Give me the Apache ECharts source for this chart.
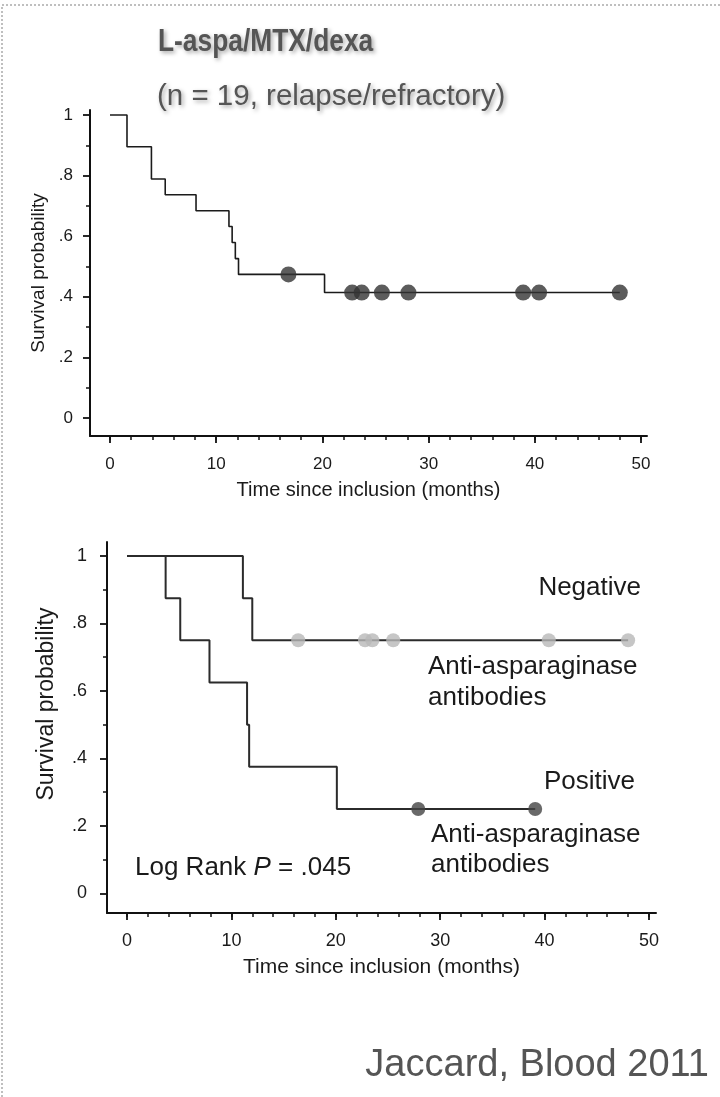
<!DOCTYPE html>
<html>
<head>
<meta charset="utf-8">
<script src="https://cdn.jsdelivr.net/npm/echarts@6/dist/echarts.min.js"></script>
<style>
  html, body { margin: 0; padding: 0; background: #fff; }
  #chart { width: 720px; height: 1097px; }
</style>
</head>
<body>
<div id="chart"></div>
<script>
// ---- Whole cohort (n = 19): Kaplan–Meier steps (months, survival after step)
const cohortTimes = [0, 1.6, 3.9, 5.2, 8.1, 11.2, 11.5, 11.8, 12.1, 20.2, 48.0];
const cohortSurv  = [1, 0.895, 0.789, 0.737, 0.684, 0.632, 0.579, 0.526, 0.474, 0.414, 0.414];
const cohortCensorTimes = [16.8, 22.8, 23.7, 25.6, 28.1, 38.9, 40.4, 48.0];
const cohortCensorSurv  = [0.474, 0.414, 0.414, 0.414, 0.414, 0.414, 0.414, 0.414];

// ---- Negative anti-asparaginase antibodies
const negTimes = [0, 11.1, 12.0, 48.0];
const negSurv  = [1, 0.875, 0.75, 0.75];
const negCensorTimes = [16.4, 22.8, 23.5, 25.5, 40.4, 48.0];
const negCensorSurv  = [0.75, 0.75, 0.75, 0.75, 0.75, 0.75];

// ---- Positive anti-asparaginase antibodies
const posTimes = [0, 3.7, 5.1, 7.9, 11.5, 11.7, 20.1, 39.1];
const posSurv  = [1, 0.875, 0.75, 0.625, 0.5, 0.375, 0.25, 0.25];
const posCensorTimes = [27.9, 39.1];
const posCensorSurv  = [0.25, 0.25];

// ---- Axis ticks and labels
const xMajorTicks = [0, 10, 20, 30, 40, 50];
const xMinorTicks = [0, 2, 4, 6, 8, 10, 12, 14, 16, 18, 20, 22, 24, 26, 28, 30, 32, 34, 36, 38, 40, 42, 44, 46, 48, 50];
const yMajorTicks = [0, 0.2, 0.4, 0.6, 0.8, 1];
const yMajorLabels = ['0', '.2', '.4', '.6', '.8', '1'];
const yMinorTicks = [0.1, 0.3, 0.5, 0.7, 0.9];

const xName = 'Time since inclusion (months)';
const yName = 'Survival probability';

const FONT = '"Liberation Sans", Arial, Helvetica, sans-serif';
const INK = '#1a1a1a';

const zip = (a, b) => a.map((v, i) => [v, b[i]]);
const yLabel = v => {
  const i = yMajorTicks.findIndex(t => Math.abs(t - v) < 1e-6);
  return i < 0 ? '' : yMajorLabels[i];
};

// Two overlaid axes per direction: one carries the line + minor ticks,
// the other the longer major ticks, labels and (optionally) the axis name.
function axesFor(g, c) {
  const lineStyle = { color: '#111', width: 2 };
  const x = [
    {
      gridIndex: g, type: 'value', position: 'bottom', min: c.xMin, max: c.xMax,
      axisLine: { show: true, onZero: false, lineStyle },
      axisTick: { show: true, customValues: xMinorTicks, length: 4, lineStyle: { color: '#111', width: 1.5 } },
      axisLabel: { show: false }, splitLine: { show: false }
    },
    {
      gridIndex: g, type: 'value', position: 'bottom', min: c.xMin, max: c.xMax,
      axisLine: { show: false, onZero: false },
      axisTick: { show: true, customValues: xMajorTicks, length: 7, lineStyle: { color: '#111', width: 1.8 } },
      axisLabel: { show: true, customValues: xMajorTicks, fontSize: c.tickFont, color: INK, fontFamily: FONT, margin: c.xLabelMargin },
      splitLine: { show: false },
      name: xName, nameLocation: 'middle', nameGap: c.xNameGap,
      nameTextStyle: { fontSize: c.xNameFont, color: INK, fontFamily: FONT }
    }
  ];
  const yMajor = {
    gridIndex: g, type: 'value', position: 'left', min: c.yMin, max: c.yMax,
    axisLine: { show: false, onZero: false },
    axisTick: { show: true, customValues: yMajorTicks, length: 7, lineStyle: { color: '#111', width: 1.8 } },
    axisLabel: { show: true, customValues: yMajorTicks, formatter: yLabel, fontSize: c.tickFont, color: INK, fontFamily: FONT, margin: c.yLabelMargin },
    splitLine: { show: false }
  };
  if (c.yNameGap != null) {
    Object.assign(yMajor, {
      name: yName, nameLocation: 'middle', nameGap: c.yNameGap, nameRotate: 90,
      nameTextStyle: { fontSize: c.yNameFont, color: INK, fontFamily: FONT }
    });
  }
  const y = [
    {
      gridIndex: g, type: 'value', position: 'left', min: c.yMin, max: c.yMax,
      axisLine: { show: true, onZero: false, lineStyle },
      axisTick: { show: true, customValues: yMinorTicks, length: 4, lineStyle: { color: '#111', width: 1.5 } },
      axisLabel: { show: false }, splitLine: { show: false }
    },
    yMajor
  ];
  return { x, y };
}

const upperAxes = axesFor(0, {
  xMin: -1.883, xMax: 50.56, yMin: -0.0594, yMax: 1.0165,
  tickFont: 17, xNameFont: 20, yNameFont: 19,
  xLabelMargin: 20, yLabelMargin: 17, xNameGap: 44, yNameGap: 40
});
// lower panel's y title sits above the axis centre, so it is placed as a graphic
const lowerAxes = axesFor(1, {
  xMin: -1.916, xMax: 50.67, yMin: -0.0584, yMax: 1.0415,
  tickFont: 18, xNameFont: 21,
  xLabelMargin: 19, yLabelMargin: 20, xNameGap: 44
});

function kmLine(times, surv, xi, yi, color, width) {
  return {
    type: 'line', step: 'end', xAxisIndex: xi, yAxisIndex: yi,
    data: zip(times, surv), symbol: 'none', silent: true,
    lineStyle: { color, width }, z: 2
  };
}
function censorDots(times, surv, xi, yi, color, size) {
  return {
    type: 'scatter', xAxisIndex: xi, yAxisIndex: yi,
    data: zip(times, surv), symbol: 'circle', symbolSize: size, silent: true,
    itemStyle: { color }, z: 3
  };
}

const annot = (text, x, y, align) => ({
  type: 'text', x, y, silent: true,
  style: { text, fill: INK, font: '26px ' + FONT, align, verticalAlign: 'middle' }
});

const shadow = {
  textShadowColor: 'rgba(0,0,0,0.35)', textShadowBlur: 4,
  textShadowOffsetX: 2, textShadowOffsetY: 2
};

const option = {
  animation: false,
  backgroundColor: '#fff',
  grid: [
    { left: 90, top: 110, width: 557, height: 326 },
    { left: 107, top: 542, width: 549, height: 371 }
  ],
  xAxis: [...upperAxes.x, ...lowerAxes.x],
  yAxis: [...upperAxes.y, ...lowerAxes.y],
  series: [
    kmLine(cohortTimes, cohortSurv, 1, 1, '#1b1b1b', 1.6),
    censorDots(cohortCensorTimes, cohortCensorSurv, 1, 1, '#333', 16),
    kmLine(negTimes, negSurv, 3, 3, '#2b2b2b', 2),
    censorDots(negCensorTimes, negCensorSurv, 3, 3, '#b8b8b8', 14),
    kmLine(posTimes, posSurv, 3, 3, '#2b2b2b', 2),
    censorDots(posCensorTimes, posCensorSurv, 3, 3, '#444', 14)
  ],
  graphic: [
    // dotted frame
    {
      type: 'rect', silent: true, z: 0,
      shape: { x: 2, y: 5, width: 800, height: 1200 },
      style: { fill: 'none', stroke: '#aaa', lineWidth: 1.5, lineDash: [2, 2] }
    },
    // slightly condensed bold heading
    {
      type: 'text', x: 158, y: 42, scaleX: 0.85, silent: true,
      style: Object.assign({
        text: 'L-aspa/MTX/dexa', fill: '#555', font: 'bold 31px ' + FONT,
        align: 'left', verticalAlign: 'middle'
      }, shadow)
    },
    {
      type: 'text', x: 157, y: 97, silent: true,
      style: Object.assign({
        text: '(n = 19, relapse/refractory)', fill: '#555', font: '29.5px ' + FONT,
        align: 'left', verticalAlign: 'middle'
      }, shadow)
    },
    {
      type: 'text', x: 47, y: 704, rotation: Math.PI / 2, silent: true,
      style: { text: yName, fill: INK, font: '23px ' + FONT, align: 'center', verticalAlign: 'middle' }
    },
    annot('Negative', 641, 588, 'right'),
    annot('Anti-asparaginase', 428, 667, 'left'),
    annot('antibodies', 428, 698, 'left'),
    annot('Positive', 635, 782, 'right'),
    annot('Anti-asparaginase', 431, 835, 'left'),
    annot('antibodies', 431, 865, 'left'),
    {
      type: 'text', x: 135, y: 868, silent: true,
      style: {
        text: '{a|Log Rank }{b|P}{a| = .045}', align: 'left', verticalAlign: 'middle',
        rich: {
          a: { fill: INK, fontSize: 26, fontFamily: FONT },
          b: { fill: INK, fontSize: 26, fontFamily: FONT, fontStyle: 'italic' }
        }
      }
    },
    {
      type: 'text', x: 709, y: 1066, silent: true,
      style: { text: 'Jaccard, Blood 2011', fill: '#555', font: '38px ' + FONT, align: 'right', verticalAlign: 'middle' }
    }
  ]
};

const chart = echarts.init(document.getElementById('chart'), null, { renderer: 'canvas' });
chart.setOption(option);
</script>
</body>
</html>
